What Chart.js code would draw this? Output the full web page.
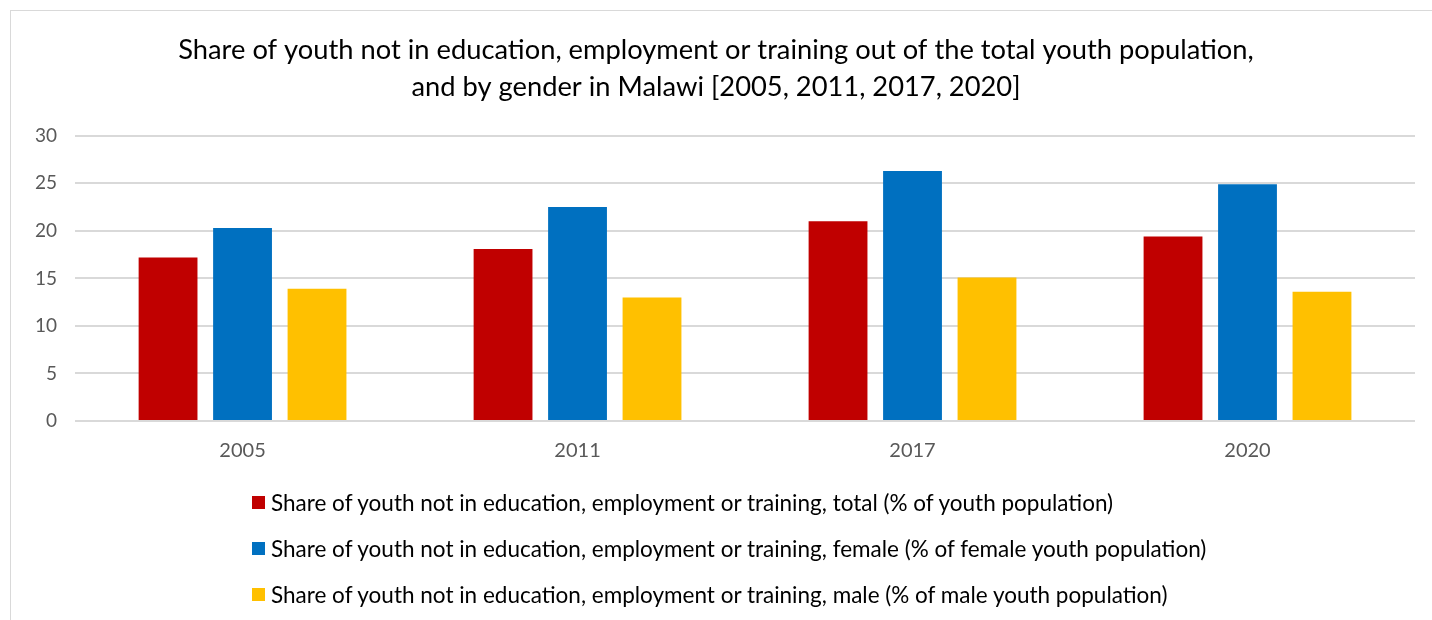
<!DOCTYPE html>
<html>
<head>
<meta charset="utf-8">
<script src="https://cdn.jsdelivr.net/npm/chart.js@4.4.0/dist/chart.umd.min.js"></script>
<style>
    body { margin: 0; background: #fff; font-family: Lato, sans-serif; }
    .cadre {
        position: absolute; left: 10px; top: 10px;
        width: 1440px; height: 640px;
        border: 1px solid #d9d9d9; box-sizing: border-box;
    }
    .zone-graphique { position: absolute; left: 0; top: 0; width: 1432px; height: 487px; }
    .legende { position: absolute; left: 252px; top: 479px; }
    .legende div { height: 46px; display: flex; align-items: center; font-size: 22.5px; color: #000; white-space: nowrap; }
    .legende span.carre { display: inline-block; width: 13px; height: 13px; margin-right: 6px; }
</style>
</head>
<body>
<div class="cadre"></div>
<div class="zone-graphique"><canvas id="graphique-neet"></canvas></div>
<div class="legende" id="legende-neet"></div>
<script>
const annees = ['2005', '2011', '2017', '2020'];
const nomsSeries = [
    'Share of youth not in education, employment or training, total (% of youth population)',
    'Share of youth not in education, employment or training, female (% of female youth population)',
    'Share of youth not in education, employment or training, male (% of male youth population)',
];
const neetTotal = [17.2, 18.1, 21.0, 19.4];
const neetFemmes = [20.3, 22.5, 26.3, 24.9];
const neetHommes = [13.9, 13.0, 15.1, 13.6];
const couleurs = ['#c00000', '#0070c0', '#ffc000'];

const titre = [
    'Share of youth not in education, employment or training out of the total youth population,',
    'and by gender in Malawi [2005, 2011, 2017, 2020]',
];

const valeurs = [neetTotal, neetFemmes, neetHommes];
const datasets = [];
for (let i = 0; i < valeurs.length; i++) {
    datasets.push({
        label: nomsSeries[i],
        data: valeurs[i],
        backgroundColor: couleurs[i],
        categoryPercentage: 0.667,
        barPercentage: 0.79,
    });
}

const config = {
    type: 'bar',
    data: { labels: annees, datasets: datasets },
    options: {
        responsive: true,
        maintainAspectRatio: false,
        animation: false,
        layout: { padding: { top: 10, right: 17, left: 17, bottom: 14 } },
        plugins: {
            legend: { display: false },
            tooltip: { enabled: false },
            title: {
                display: true,
                text: titre,
                color: '#000',
                font: { family: 'Lato', size: 27.3, weight: 'normal', lineHeight: 1.37 },
                padding: { top: 21, bottom: 30 },
            },
        },
        scales: {
            x: {
                grid: { display: false },
                border: { display: false },
                ticks: { color: '#595959', font: { family: 'Lato', size: 20 }, padding: 10 },
            },
            y: {
                min: 0,
                max: 30,
                ticks: { stepSize: 5, color: '#595959', font: { family: 'Lato', size: 19 }, padding: 18 },
                grid: { color: '#d9d9d9', lineWidth: 2, drawTicks: false },
                border: { display: false },
            },
        },
    },
};

const graphique = new Chart(document.querySelector('#graphique-neet'), config);

// légende en colonne, alignée à gauche
const legende = document.querySelector('#legende-neet');
for (let ds of graphique.data.datasets) {
    const ligne = document.createElement('div');
    ligne.innerHTML = `<span class="carre" style="background:${ds.backgroundColor}"></span>${ds.label}`;
    legende.appendChild(ligne);
}
</script>
</body>
</html>
